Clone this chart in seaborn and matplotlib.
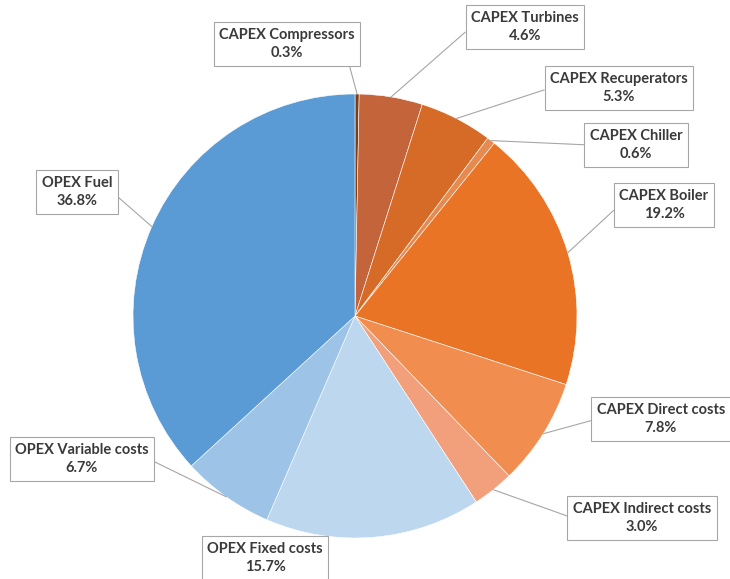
import numpy as np
import pandas as pd
import seaborn as sns
import matplotlib.pyplot as plt

labels = ["CAPEX Compressors", "CAPEX Turbines", "CAPEX Recuperators", "CAPEX Chiller",
          "CAPEX Boiler", "CAPEX Direct costs", "CAPEX Indirect costs",
          "OPEX Fixed costs", "OPEX Variable costs", "OPEX Fuel"]
shares = [0.3, 4.6, 5.3, 0.6, 19.2, 7.8, 3.0, 15.7, 6.7, 36.8]
colors = ["#843C0C", "#C4643A", "#D56B27", "#E68A50", "#EA7425",
          "#F28D50", "#F2A07C", "#BDD7EE", "#9DC3E6", "#5B9BD5"]

# label box centres (pixels from top-left) and which side the leader attaches to
box_px = [(287, 44), (525, 27), (619, 88), (636, 145), (664, 205),
          (661, 419), (642, 518), (265, 558), (82, 459), (77, 192)]
relpos = [(0.95, 0.0), (0, 0.5), (0, 0.5), (0, 0.5), (0, 0.5),
          (0, 0.5), (0, 0.5), None, (1, 0.5), (1, 0.5)]

df = pd.DataFrame({"label": labels, "share": shares})

sns.set_theme(style="white")
plt.rcParams['font.family'] = ['Lato', 'DejaVu Sans']

W, H = 730, 579
cx, cy, R = 355, 316, 222
fig = plt.figure(figsize=(W / 100, H / 100), dpi=100)
ax = fig.add_axes([0, 0, 1, 1])

wedges, _ = ax.pie(df["share"], colors=colors, startangle=90, counterclock=False,
                   wedgeprops=dict(edgecolor="white", linewidth=0.4))
ax.set_xlim(-cx / R, (W - cx) / R)
ax.set_ylim(-(H - cy) / R, cy / R)
ax.set_aspect("equal")
ax.axis("off")

for w, lab, val, (bx, by), rp in zip(wedges, df["label"], df["share"], box_px, relpos):
    ang = np.deg2rad((w.theta1 + w.theta2) / 2)
    xy = (np.cos(ang), np.sin(ang))
    xt = ((bx - cx) / R, (cy - by) / R)
    arrow = None
    if rp is not None:
        arrow = dict(arrowstyle="-", color="#A6A6A6", lw=0.8,
                     shrinkA=0, shrinkB=0, relpos=rp)
    ax.annotate(f"{lab}\n{val:.1f}%", xy=xy, xytext=xt, ha="center", va="center",
                fontsize=10.5, fontweight="bold", color="#3A3A3A", linespacing=1.45,
                bbox=dict(boxstyle="square,pad=0.38", fc="white", ec="#A6A6A6", lw=0.8),
                arrowprops=arrow)

fig.savefig("out.png", dpi=100)
